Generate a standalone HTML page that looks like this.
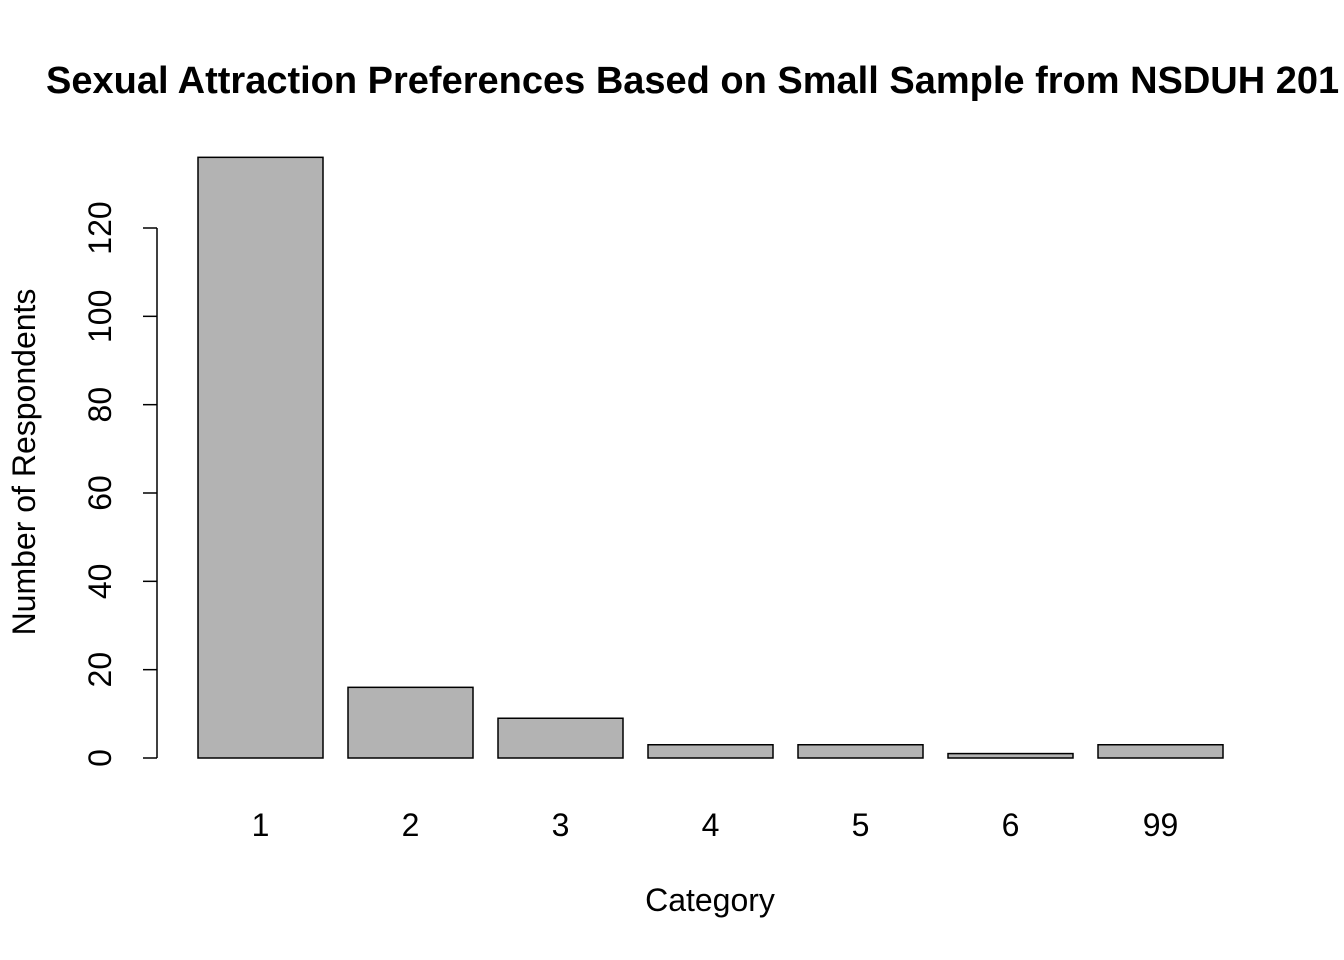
<!DOCTYPE html>
<html><head><meta charset="utf-8"><style>
html,body{margin:0;padding:0;background:#fff;overflow:hidden;}
svg{display:block;font-family:"Liberation Sans",Arial,sans-serif;}
</style></head><body>
<svg id="chart" width="1344" height="960" viewBox="0 0 1344 960">
<text x="46" y="93" font-size="38" font-weight="bold" fill="#000">Sexual Attraction Preferences Based on Small Sample from NSDUH 201</text>
<text transform="translate(35,462) rotate(-90)" text-anchor="middle" font-size="32">Number of Respondents</text>
<text x="710" y="911" text-anchor="middle" font-size="32">Category</text>
<g id="bars"></g><g id="yaxis"></g><g id="xlabels"></g>
</svg>
<script>
const categories = ["1","2","3","4","5","6","99"];
const counts = [136, 16, 9, 3, 3, 1, 3];
const yTicks = [0, 20, 40, 60, 80, 100, 120];
const NS = "http://www.w3.org/2000/svg";
function y(v){ return 758 - v * (530/120); }
function xLeft(i){ return 198 + i * 150; }
const bw = 125;
const bars = document.getElementById('bars');
const xl = document.getElementById('xlabels');
categories.forEach((c,i)=>{
  const r = document.createElementNS(NS,'rect');
  r.setAttribute('x', xLeft(i)); r.setAttribute('y', y(counts[i]));
  r.setAttribute('width', bw); r.setAttribute('height', y(0)-y(counts[i]));
  r.setAttribute('fill','#b3b3b3'); r.setAttribute('stroke','#000'); r.setAttribute('stroke-width','1.5');
  
  
  bars.appendChild(r);
  const t = document.createElementNS(NS,'text');
  t.setAttribute('x', xLeft(i)+bw/2); t.setAttribute('y', 836);
  t.setAttribute('text-anchor','middle'); t.setAttribute('font-size','32');
  t.textContent = c;
  
  
  xl.appendChild(t);
});
const ya = document.getElementById('yaxis');
const line = document.createElementNS(NS,'line');
line.setAttribute('x1',157); line.setAttribute('x2',157);
line.setAttribute('y1',y(yTicks[yTicks.length-1])); line.setAttribute('y2',y(yTicks[0]));
line.setAttribute('stroke','#000'); line.setAttribute('stroke-width','1.5');


ya.appendChild(line);
yTicks.forEach(v=>{
  const tk = document.createElementNS(NS,'line');
  tk.setAttribute('x1',143); tk.setAttribute('x2',157);
  tk.setAttribute('y1',y(v)); tk.setAttribute('y2',y(v));
  tk.setAttribute('stroke','#000'); tk.setAttribute('stroke-width','1.5');
  
  
  ya.appendChild(tk);
  const t = document.createElementNS(NS,'text');
  t.setAttribute('transform','translate(111,'+y(v)+') rotate(-90)');
  t.setAttribute('text-anchor','middle'); t.setAttribute('font-size','32');
  t.textContent = v;
  
  
  ya.appendChild(t);
});
</script>
</body></html>
